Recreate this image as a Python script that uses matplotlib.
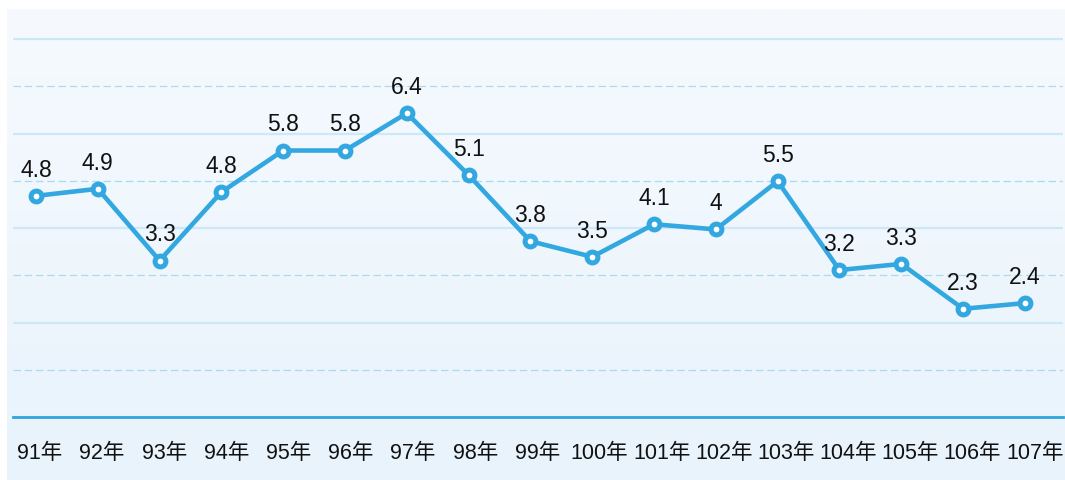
import matplotlib.pyplot as plt
import numpy as np

years = ["91年", "92年", "93年", "94年", "95年", "96年", "97年", "98年", "99年",
         "100年", "101年", "102年", "103年", "104年", "105年", "106年", "107年"]
# point heights as drawn in the picture
rates = [4.68, 4.83, 3.31, 4.76, 5.64, 5.64, 6.43, 5.12, 3.72,
         3.39, 4.08, 3.97, 4.99, 3.11, 3.24, 2.29, 2.41]
# labels as printed above the points
labels = ["4.8", "4.9", "3.3", "4.8", "5.8", "5.8", "6.4", "5.1", "3.8",
          "3.5", "4.1", "4", "5.5", "3.2", "3.3", "2.3", "2.4"]
grid_levels = [1, 2, 3, 4, 5, 6, 7, 8]

W, H = 1065, 481
fig = plt.figure(figsize=(W / 100, H / 100), dpi=100)

# gradient panel behind the chart
bg = fig.add_axes([7 / W, 1 - 481 / H, 1 - 7 / W, 471 / H])
top = np.array([246, 250, 254]) / 255
bot = np.array([232, 243, 252]) / 255
t = np.linspace(0, 1, 256)[:, None]
grad = top * (1 - t) + bot * t
bg.imshow(grad[:, None, :], aspect="auto", extent=[0, 1, 0, 1])
bg.axis("off")

ax = fig.add_axes([13 / W, 1 - 418 / H, 1050 / W, 408 / H])
ax.patch.set_alpha(0)
x = np.arange(len(years))
ax.set_xlim(-0.372, 16.617)
ax.set_ylim(0, 408 / 47.25)

for lv in grid_levels:
    if lv % 2 == 0:
        ax.axhline(lv, color="#cde8f8", lw=1.6, zorder=1)
    else:
        ax.axhline(lv, color="#a9daf1", lw=0.9, dashes=(6, 3), zorder=1)
ax.axhline(0, color="#2ea4dc", lw=2.0, zorder=2, clip_on=False)

ax.plot(x, rates, color="#33a8e0", lw=3.3, marker="o", ms=7.8,
        mew=3.6, mfc="white", mec="#33a8e0", zorder=3, clip_on=False)

fam = ["Liberation Sans", "Noto Sans CJK TC"]
for xi, yi, lab in zip(x, rates, labels):
    ax.annotate(lab, (xi, yi), xytext=(0, 11), textcoords="offset points",
                ha="center", va="bottom", fontsize=16.5,
                family=fam, color="#111111")

# the year labels sit on a slightly wider, even spacing than the points
ax.set_xticks(np.linspace(0.065, 16.16, len(years)))
ax.set_xticklabels(years, family=fam, fontsize=15.5, color="#111111")
ax.tick_params(axis="x", length=0, pad=18)
ax.set_yticks([])
for s in ax.spines.values():
    s.set_visible(False)

fig.savefig("out.png", dpi=100)
